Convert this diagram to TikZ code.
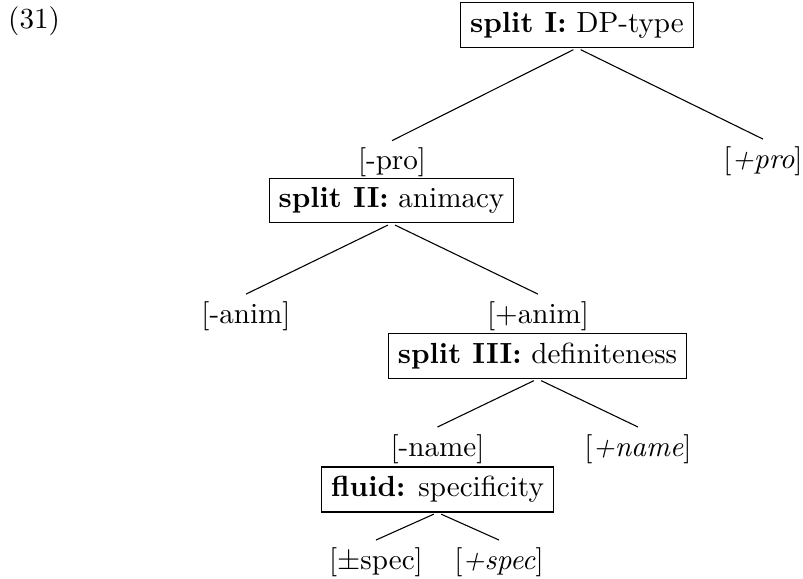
\documentclass[tikz,border=0pt]{standalone}
\usepackage{tikz}
\tikzset{
	every node/.style={font=\fontsize{10.7}{13}\selectfont},
	split/.style={draw, thin, inner sep=3.4pt},
	feat/.style={inner sep=2.5pt},
	branch/.style={thin, shorten <=1.5pt}
}

\begin{document}
\begin{tikzpicture}
		\useasboundingbox (0,0) rectangle (10.375,-7.468);

		\node (ex) at (0.44,-0.27) {(31)};

		% split I
		\node[split] (dp) at (7.455,-0.323) {\textbf{split I:} DP-type};
		\node[feat] (mpro) at (5.065,-2.10) {[-pro]};
		\node[feat] (ppro) at (9.858,-2.08) {[\textit{+pro}]};
		\draw[branch] (dp.south) -- (mpro.north);
		\draw[branch] (dp.south) -- (ppro.north);

		% split II
		\node[split] (anim) at (5.058,-2.59) {\textbf{split II:} animacy};
		\node[feat] (manim) at (3.178,-4.083) {[-anim]};
		\node[feat] (panim) at (6.951,-4.083) {[+anim]};
		\draw[branch] (anim.south) -- (manim.north);
		\draw[branch] (anim.south) -- (panim.north);

		% split III
		\node[split] (def) at (6.945,-4.60) {\textbf{split III:} definiteness};
		\node[feat] (mname) at (5.652,-5.80) {[-name]};
		\node[feat] (pname) at (8.243,-5.80) {[\textit{+name}]};
		\draw[branch] (def.south) -- (mname.north);
		\draw[branch] (def.south) -- (pname.north);

		% fluid
		\node[split] (spec) at (5.652,-6.324) {\textbf{fluid:} specificity};
		\node[feat] (pmspec) at (4.858,-7.26) {[$\pm$spec]};
		\node[feat] (pspec) at (6.447,-7.26) {[\textit{+spec}]};
		\draw[branch] (spec.south) -- (pmspec.north);
		\draw[branch] (spec.south) -- (pspec.north);

	\end{tikzpicture}
\end{document}
